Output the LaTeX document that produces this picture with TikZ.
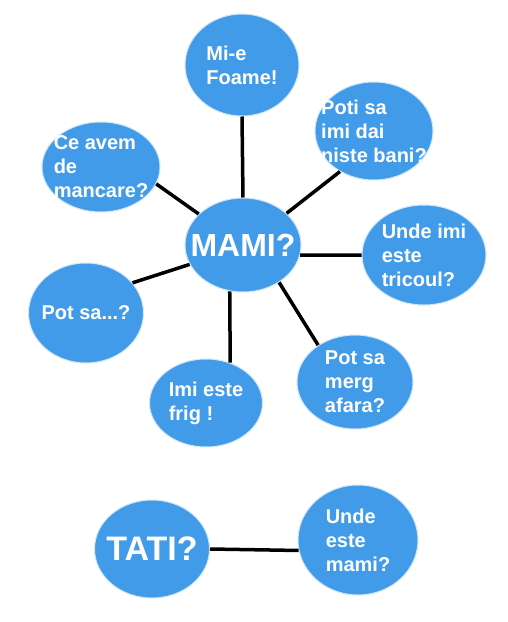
\documentclass[tikz,border=0pt]{standalone}
\usepackage{fontspec}
\setmainfont{Liberation Sans}
\usetikzlibrary{shapes.geometric}
\definecolor{bubbleblue}{RGB}{66,155,232}
\tikzset{bubble/.style={ellipse,fill=bubbleblue,draw=bubbleblue!25,line width=1pt,inner sep=0pt}}
\tikzset{bubbletext/.style={text=white,font=\bfseries\fontsize{20}{24}\selectfont,align=left}}
\tikzset{link/.style={line width=3.5pt,black}}

\begin{document}
\begin{tikzpicture}[x=1pt,y=-1pt]
      \fill[white] (0,0) rectangle (508,622);
      \useasboundingbox (0,0) rectangle (508,622);

      \node[bubble,minimum width=114,minimum height=102,label={[bubbletext]center:Mi-e\\Foame!}] at (242,65) (foame) {};
      \node[bubble,minimum width=118,minimum height=90,label={[bubbletext]center:Ce avem\\de\\mancare?}] at (101,167) (mancare) {};
      \node[bubble,minimum width=118,minimum height=98,label={[bubbletext]center:Poti sa\\imi dai\\niste bani?}] at (374,131) (bani) {};
      \node[bubble,minimum width=116,minimum height=94,label={[bubbletext,font=\bfseries\fontsize{32}{36}\selectfont]center:MAMI?}] at (243,245) (mami) {};
      \node[bubble,minimum width=124,minimum height=100,label={[bubbletext]center:Unde imi\\este\\tricoul?}] at (424,255) (tricou) {};
      \node[bubble,minimum width=115,minimum height=100,label={[bubbletext]center:Pot sa...?}] at (86,313) (potsa) {};
      \node[bubble,minimum width=113,minimum height=88,label={[bubbletext]center:Imi este\\frig !}] at (206,403) (frig) {};
      \node[bubble,minimum width=116,minimum height=94,label={[bubbletext]center:Pot sa\\merg\\afara?}] at (355,382) (afara) {};

      \node[bubble,minimum width=115,minimum height=98,label={[bubbletext,font=\bfseries\fontsize{34}{38}\selectfont]center:TATI?}] at (152,549) (tati) {};
      \node[bubble,minimum width=120,minimum height=110,label={[bubbletext]center:Unde\\este\\mami?}] at (358,540) (undemami) {};

      % legaturi
      \draw[link] (mami.north) -- (foame.south);
      \draw[link] (mami.145) -- (mancare.343);
      \draw[link] (mami.36) -- (bani.230);
      \draw[link] (mami.350) -- (tricou.180);
      \draw[link] (mami.200) -- (potsa.33);
      \draw[link] (mami.254) -- (frig.59);
      \draw[link] (mami.314) -- (afara.135);
      \draw[link] (tati.east) -- (undemami.190);
\end{tikzpicture}
\end{document}
